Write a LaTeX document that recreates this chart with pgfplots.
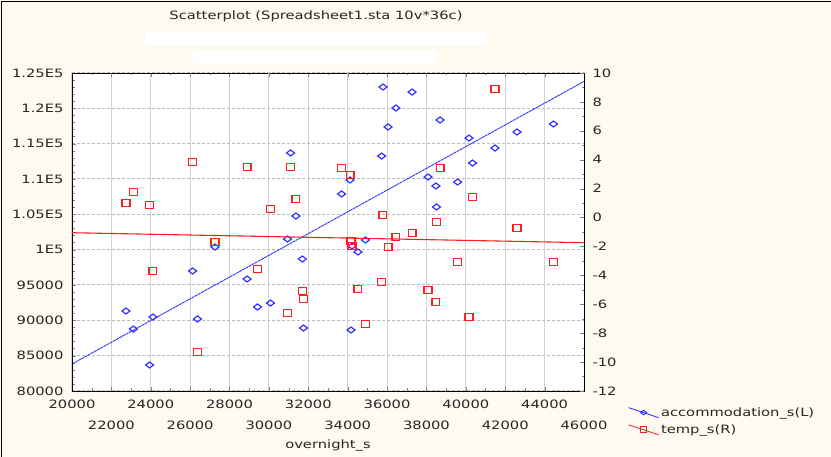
\documentclass[border=0pt]{standalone}
\usepackage{pgfplots}
\pgfplotsset{compat=1.18}
\usepackage{pgfplotstable}
\usepackage{fontspec}
\setmainfont{DejaVu Sans}[FakeStretch=1.28]
\definecolor{bgcream}{RGB}{255,250,240}
\definecolor{sblue}{RGB}{50,50,255}
\definecolor{sred}{RGB}{255,30,30}
\definecolor{gridgray}{RGB}{210,210,210}
\definecolor{dashgray}{RGB}{185,185,185}

\pgfplotstableread{
x acc temp
22740 91320 1.01
23120 88770 1.77
23940 83680 0.87
24110 90470 -3.70
26120 96980 3.84
26370 90190 -9.30
27260 100380 -1.69
28890 95850 3.50
29420 91890 -3.56
30080 92450 0.59
30940 101510 -6.60
31100 113680 3.50
31370 104760 1.28
31700 98680 -5.08
31760 88910 -5.64
33690 107880 3.43
34120 109860 2.94
34170 88630 -1.62
34220 100520 -1.97
34520 99670 -4.94
34900 101370 -7.36
35720 113250 -4.46
35790 123020 0.18
36050 117360 -2.04
36450 120040 -1.35
37270 122310 -1.07
38080 110280 -5.01
38480 109010 -5.84
38510 106040 -0.31
38690 118350 3.43
39580 109570 -3.08
40160 115800 -6.88
40340 112260 1.42
41480 114380 8.89
42600 116650 -0.72
44450 117780 -3.08
}\datatable

\pgfplotsset{
  common/.style={
    at={(72pt,66pt)}, anchor=south west,
    width=512pt, height=318pt, scale only axis,
    xmin=20000, xmax=46000,
    axis line style={black, line width=0.9pt},
    major tick length=4pt, minor tick length=2.5pt,
    tick label style={black!85, /pgf/number format/assume math mode=true},
    scaled ticks=false,
    /pgf/number format/1000 sep={},
  },
  legline/.style={
    legend image code/.code={
      \draw[##1, mark=none] (0pt,5pt) -- (30pt,-5pt);
      \draw[##1, only marks] plot coordinates {(15pt,0pt)};
    }
  }
}

\begin{document}
\begin{tikzpicture}[font=\fontsize{11.5}{13.5}\selectfont]
\fill[bgcream] (0pt,0pt) rectangle (831pt,457pt);
\fill[white] (145pt,411pt) rectangle (487pt,425pt);
\fill[white] (193pt,394pt) rectangle (437pt,407pt);
\fill[white] (72pt,66pt) rectangle (584pt,384pt);
\node[black!85] at (316pt,441pt) {Scatterplot (Spreadsheet1.sta 10v*36c)};

\begin{axis}[common,
  ymin=80000, ymax=125000,
  ytick pos=left, xtick pos=both,
  xtick={20000,24000,...,44000},
  extra x ticks={22000,26000,...,46000},
  extra x tick style={grid=major, xticklabel style={yshift=-21pt}},
  xticklabel style={yshift=-5pt},
  minor x tick num=3,
  ytick={80000,85000,...,125000},
  yticklabels={80000,85000,90000,95000,1E5,1.05E5,1.1E5,1.15E5,1.2E5,1.25E5},
  yticklabel style={xshift=-5pt},
  minor y tick num=4,
  xmajorgrids=true, ymajorgrids=true,
  xminorgrids=false, yminorgrids=false,
  minor x grid style={draw=none}, minor y grid style={draw=none},
  major x grid style={gridgray, line width=1pt},
  major y grid style={dashgray, dash pattern=on 3pt off 2pt, line width=1pt},
  xlabel={overnight\_s},
  xlabel style={at={(axis description cs:0.5,0)}, anchor=center, yshift=-54pt, black!85},
]
\addplot[sblue, line width=0.9pt, dash pattern=on 3pt off 0.6pt] coordinates {(20000,83820) (46000,123810)};
\addplot[only marks, mark=diamond, mark size=4pt, mark options={sblue, rotate=90, line width=1.2pt, solid}] table[x=x, y=acc] {\datatable};
\end{axis}

\begin{axis}[common,
  ymin=-12, ymax=10,
  hide x axis,
  ytick pos=right, yticklabel pos=right,
  ytick={-12,-10,...,10},
  minor y tick num=1,
  yticklabel style={xshift=5pt},
  legend style={at={(1.086,-0.045)}, anchor=north west, draw=none, fill=none,
    row sep=3pt, inner sep=0pt, font=\fontsize{11.5}{13.5}\selectfont, text=black!85},
  legend cell align=left,
  legline,
]
\addlegendimage{sblue, line width=0.8pt, mark=diamond, mark size=3pt, mark options={rotate=90, line width=1pt}}
\addlegendentry{accommodation\_s(L)}
\addlegendimage{sred, line width=0.8pt, mark=square, mark size=3pt, mark options={line width=1pt}}
\addlegendentry{temp\_s(R)}
\addplot[sred, line width=1.1pt, forget plot] coordinates {(20000,-1.05) (46000,-1.74)};
\addplot[only marks, forget plot, mark=square, mark size=3.9pt, mark options={sred, yscale=0.85, line width=1.3pt, solid}] table[x=x, y=temp] {\datatable};
\end{axis}

\draw[black, line width=1.5pt] (1.5pt,0pt) -- (1.5pt,455.5pt) -- (831pt,455.5pt);
\pgfresetboundingbox
\path[use as bounding box] (0pt,0pt) rectangle (831pt,457pt);
\end{tikzpicture}
\end{document}
